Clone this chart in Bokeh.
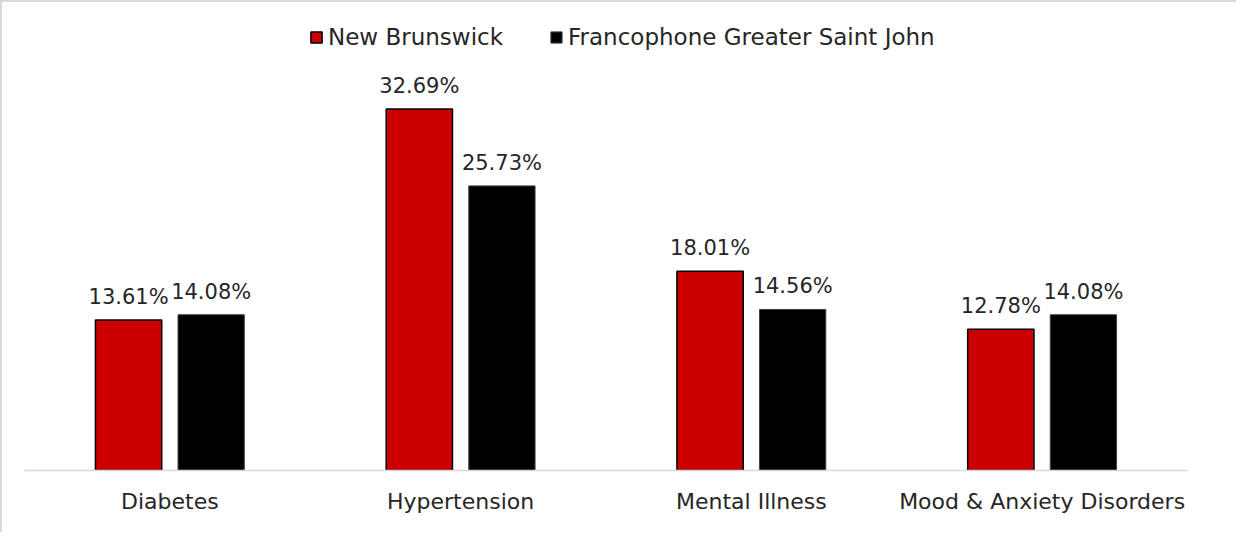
from bokeh.plotting import figure
from bokeh.models import ColumnDataSource, FactorRange, Range1d, Legend, LegendItem
from bokeh.transform import dodge
from bokeh.core.properties import value
from bokeh.embed import file_html
from bokeh.resources import INLINE

# ---- data ----
categories = ["Diabetes", "Hypertension", "Mental Illness", "Mood & Anxiety Disorders"]
series_names = ["New Brunswick", "Francophone Greater Saint John"]
new_brunswick = [13.61, 32.69, 18.01, 12.78]
francophone_gsj = [14.08, 25.73, 14.56, 14.08]

RED = "#CC0000"
BLACK = "#000000"
TEXT = "#262626"
GRID = "#d9d9d9"
FONT = "DejaVu Sans"

src = ColumnDataSource(dict(
    cat=categories,
    nb=new_brunswick,
    fr=francophone_gsj,
    nb_lbl=[f"{v:.2f}%" for v in new_brunswick],
    fr_lbl=[f"{v:.2f}%" for v in francophone_gsj],
))

W, H = 1236, 532
p = figure(
    x_range=FactorRange(*categories, range_padding=0),
    y_range=Range1d(0, 42.31),
    width=W, height=H,
    output_backend="svg", toolbar_location=None,
    min_border_left=22, min_border_right=51, min_border_top=0, min_border_bottom=64,
)
p.styles = {"border-top": f"2px solid {GRID}", "border-left": f"2px solid {GRID}"}

off = 0.142
bw = 0.228
r1 = p.vbar(x=dodge("cat", -off, range=p.x_range), top="nb", width=bw, source=src,
            fill_color=RED, line_color="#000000", line_width=1.5)
r2 = p.vbar(x=dodge("cat", off, range=p.x_range), top="fr", width=bw, source=src,
            fill_color=BLACK, line_color="#404040", line_width=1)

for col, lbl, o in (("nb", "nb_lbl", -off), ("fr", "fr_lbl", off)):
    p.text(x=dodge("cat", o, range=p.x_range), y=col, text=lbl, source=src,
           text_align="center", text_baseline="alphabetic", y_offset=-23,
           text_font=value(FONT), text_font_size="21px", text_color=TEXT)

legend = Legend(
    items=[LegendItem(label=series_names[0], renderers=[r1]),
           LegendItem(label=series_names[1], renderers=[r2])],
    orientation="horizontal", location=(285, 420),
    glyph_width=14, glyph_height=14, label_standoff=5, spacing=46,
    padding=0, margin=0, border_line_color=None, background_fill_alpha=0,
    label_text_font=FONT, label_text_font_size="23px", label_text_color=TEXT,
)
p.add_layout(legend)

p.xgrid.visible = False
p.ygrid.visible = False
p.yaxis.visible = False
p.outline_line_color = None

ax = p.xaxis[0]
ax.axis_line_color = GRID
ax.axis_line_width = 1.5
ax.major_tick_line_color = None
ax.major_tick_in = 0
ax.major_tick_out = 0
ax.major_label_standoff = 18
ax.major_label_text_font = FONT
ax.major_label_text_font_size = "22px"
ax.major_label_text_color = TEXT

open("out.html", "w").write(file_html(p, INLINE))
